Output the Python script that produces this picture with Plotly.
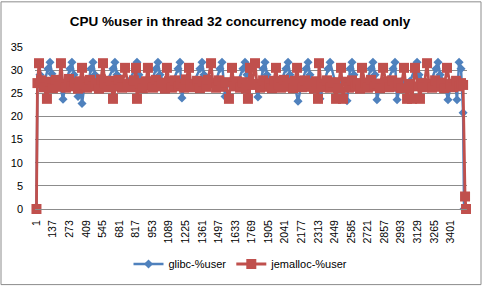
import plotly.graph_objects as go

tick_labels = [str(v) for v in [1, 137, 273, 409, 545, 681, 817, 953, 1089, 1225, 1361, 1497, 1633,
                                1769, 1905, 2041, 2177, 2313, 2449, 2585, 2721, 2857, 2993, 3129, 3265, 3401]]
tick_vals = [1, 137, 273, 409, 545, 681, 817, 953, 1089, 1225, 1361, 1497, 1633,
             1769, 1905, 2041, 2177, 2313, 2449, 2585, 2721, 2857, 2993, 3129, 3265, 3401]

glibc_idx = [1, 9, 30, 63, 95, 112, 128, 161, 194, 219, 243, 276, 292, 309, 342, 358, 375, 399, 424,
             448, 465, 481, 514, 547, 572, 629, 645, 662, 695, 728, 760, 810, 826, 842, 875, 908, 949,
             982, 998, 1015, 1048, 1081, 1113, 1163, 1179, 1195, 1220, 1261, 1294, 1343, 1360, 1376,
             1409, 1442, 1475, 1507, 1524, 1549, 1573, 1606, 1647, 1696, 1713, 1729, 1762, 1795, 1819,
             1861, 1877, 1893, 1926, 1959, 2000, 2049, 2066, 2082, 2115, 2148, 2181, 2214, 2230, 2246,
             2279, 2304, 2328, 2361, 2394, 2411, 2452, 2493, 2550, 2575, 2591, 2607, 2640, 2673, 2706,
             2747, 2763, 2780, 2796, 2829, 2870, 2928, 2944, 2961, 2994, 3026, 3067, 3108, 3125, 3141,
             3182, 3232, 3281, 3297, 3314, 3347, 3379, 3404, 3437, 3453, 3470, 3486, 3503, 3511]
glibc_user = [0.5, 27.5, 29.0, 27.2, 30.3, 31.7, 29.2, 27.4, 27.0, 23.7, 27.5, 30.3, 31.7, 29.0, 24.3,
              27.2, 22.8, 27.5, 27.0, 30.3, 31.7, 29.0, 27.3, 27.8, 27.1, 30.3, 31.7, 29.0, 27.5, 27.0,
              27.6, 30.3, 31.7, 29.0, 27.3, 27.0, 27.7, 30.3, 31.7, 29.0, 27.2, 27.5, 27.0, 30.3, 31.7,
              24.0, 27.6, 27.2, 27.5, 30.3, 31.7, 29.0, 27.3, 27.0, 27.7, 30.3, 31.7, 24.3, 27.2, 27.5,
              27.0, 30.3, 31.7, 29.0, 27.4, 27.0, 24.2, 30.3, 31.7, 29.0, 27.3, 27.6, 27.0, 30.3, 31.7,
              29.0, 27.4, 23.3, 27.5, 30.3, 31.7, 29.0, 27.2, 27.6, 23.8, 27.3, 30.3, 31.7, 27.5, 27.0,
              23.4, 30.3, 31.7, 29.0, 27.3, 27.6, 27.1, 30.3, 31.7, 29.0, 23.6, 27.4, 27.0, 30.3, 31.7,
              23.6, 27.5, 27.1, 27.6, 30.3, 31.7, 29.0, 27.3, 27.0, 30.3, 31.7, 29.0, 27.4, 23.6, 27.2,
              27.5, 23.6, 31.7, 30.3, 20.8, 0.0]

jemalloc_idx = [1, 9, 22, 38, 63, 87, 112, 136, 161, 186, 202, 219, 243, 268, 292, 317, 342, 358, 375,
                391, 416, 440, 465, 489, 514, 531, 547, 563, 588, 613, 629, 654, 678, 703, 728, 752, 777,
                801, 818, 826, 851, 875, 900, 916, 933, 957, 982, 1007, 1031, 1056, 1072, 1089, 1113,
                1138, 1163, 1187, 1212, 1228, 1253, 1269, 1294, 1319, 1343, 1368, 1393, 1409, 1434, 1450,
                1475, 1499, 1524, 1549, 1581, 1606, 1622, 1647, 1672, 1696, 1721, 1737, 1754, 1770, 1795,
                1811, 1836, 1861, 1885, 1910, 1934, 1951, 1967, 1984, 2008, 2033, 2058, 2082, 2107, 2123,
                2140, 2156, 2181, 2205, 2230, 2255, 2279, 2296, 2312, 2320, 2337, 2361, 2386, 2411, 2435,
                2460, 2476, 2501, 2517, 2542, 2566, 2591, 2616, 2640, 2657, 2673, 2698, 2722, 2747, 2772,
                2796, 2821, 2846, 2870, 2895, 2920, 2944, 2969, 2994, 3018, 3043, 3067, 3084, 3108, 3133,
                3149, 3166, 3182, 3207, 3223, 3248, 3273, 3297, 3322, 3347, 3371, 3396, 3420, 3445, 3470,
                3486, 3503, 3519, 3527]
jemalloc_user = [0.0, 27.2, 31.5, 27.8, 26.3, 23.8, 27.5, 26.1, 27.9, 26.4, 31.5, 27.0, 26.2, 28.1, 26.5,
                 27.3, 26.0, 27.6, 30.5, 26.8, 26.2, 27.9, 26.5, 27.2, 26.0, 28.0, 31.5, 27.2, 26.3, 27.7,
                 23.8, 26.5, 27.9, 26.2, 30.5, 27.0, 26.3, 27.8, 30.5, 23.8, 27.2, 26.1, 27.6, 30.5, 26.8,
                 26.2, 27.9, 26.5, 27.3, 26.0, 30.5, 27.6, 26.2, 27.8, 26.5, 27.1, 26.2, 28.0, 30.5, 27.0,
                 26.3, 27.7, 26.1, 27.5, 26.4, 27.9, 31.5, 27.2, 26.2, 27.8, 26.4, 27.4, 23.8, 30.5, 26.5,
                 27.6, 26.2, 27.4, 26.0, 23.8, 30.5, 26.8, 31.5, 27.0, 26.2, 27.8, 26.4, 27.2, 26.1, 27.7,
                 30.5, 26.8, 26.2, 27.9, 26.4, 27.3, 26.1, 27.7, 30.5, 26.9, 26.3, 27.8, 26.4, 27.2, 26.0,
                 27.6, 23.8, 31.5, 27.0, 26.3, 27.8, 26.2, 27.4, 23.8, 26.1, 30.5, 23.8, 27.5, 26.2, 27.8,
                 26.4, 27.2, 26.0, 30.5, 27.3, 26.2, 27.9, 26.5, 27.1, 26.1, 30.5, 27.6, 26.3, 27.8, 26.4,
                 27.3, 26.1, 30.5, 23.8, 27.0, 23.8, 30.5, 26.5, 23.8, 27.2, 26.3, 31.5, 27.0, 26.2, 27.8,
                 26.4, 27.3, 26.1, 30.5, 27.0, 26.3, 27.7, 26.5, 27.2, 26.8, 2.7, 0.0]

FONT = "Liberation Sans"
BLUE = "#4F81BD"
RED = "#C0504D"

fig = go.Figure()
fig.add_trace(go.Scatter(
    x=glibc_idx, y=glibc_user, mode="lines+markers", name="glibc-%user",
    line=dict(color=BLUE, width=2.5),
    marker=dict(symbol="diamond", size=7, color=BLUE),
    cliponaxis=False))
fig.add_trace(go.Scatter(
    x=jemalloc_idx, y=jemalloc_user, mode="lines+markers", name="jemalloc-%user",
    line=dict(color=RED, width=2.8),
    marker=dict(symbol="square", size=10, color=RED),
    cliponaxis=False))

L, R, T, B = 35, 16, 47, 79
pw, ph = 483 - L - R, 291 - T - B

def px_to_paper_x(px):
    return (px - L) / pw

def py_to_paper_y(py):
    return (T + ph - py) / ph

fig.update_layout(
    width=483, height=291,
    margin=dict(l=L, r=R, t=T, b=B, pad=0),
    paper_bgcolor="white", plot_bgcolor="white",
    title=dict(text="<b>CPU %user in thread 32 concurrency mode read only</b>",
               x=px_to_paper_x(240), xref="paper", xanchor="center",
               y=1 - 21 / 291, yref="container", yanchor="middle",
               font=dict(family=FONT, size=13.5, color="black")),
    showlegend=True,
    legend=dict(orientation="h", x=px_to_paper_x(241), xanchor="center",
                y=py_to_paper_y(268), yanchor="middle",
                font=dict(family=FONT, size=11, color="black"),
                bgcolor="rgba(0,0,0,0)", itemwidth=30, tracegroupgap=0),
    xaxis=dict(range=[-11, 3535], tickmode="array", tickvals=tick_vals, ticktext=tick_labels,
               tickangle=-90, showgrid=False, zeroline=False, showline=True,
               linecolor="#8c8c8c", linewidth=1, ticks="", ticklabelstandoff=6,
               tickfont=dict(family=FONT, size=10.5, color="black")),
    yaxis=dict(range=[0, 35], dtick=5, tick0=0, showgrid=True, gridcolor="#8c8c8c",
               gridwidth=1, zeroline=False, showline=False, ticks="", ticklabelstandoff=11,
               tickfont=dict(family=FONT, size=11, color="black")),
    shapes=[dict(type="rect", xref="paper", yref="paper",
                 x0=px_to_paper_x(1), x1=px_to_paper_x(481),
                 y0=py_to_paper_y(289), y1=py_to_paper_y(1),
                 line=dict(color="#8c8c8c", width=1), fillcolor="rgba(0,0,0,0)", layer="below")],
)

fig.write_html("out.html")
